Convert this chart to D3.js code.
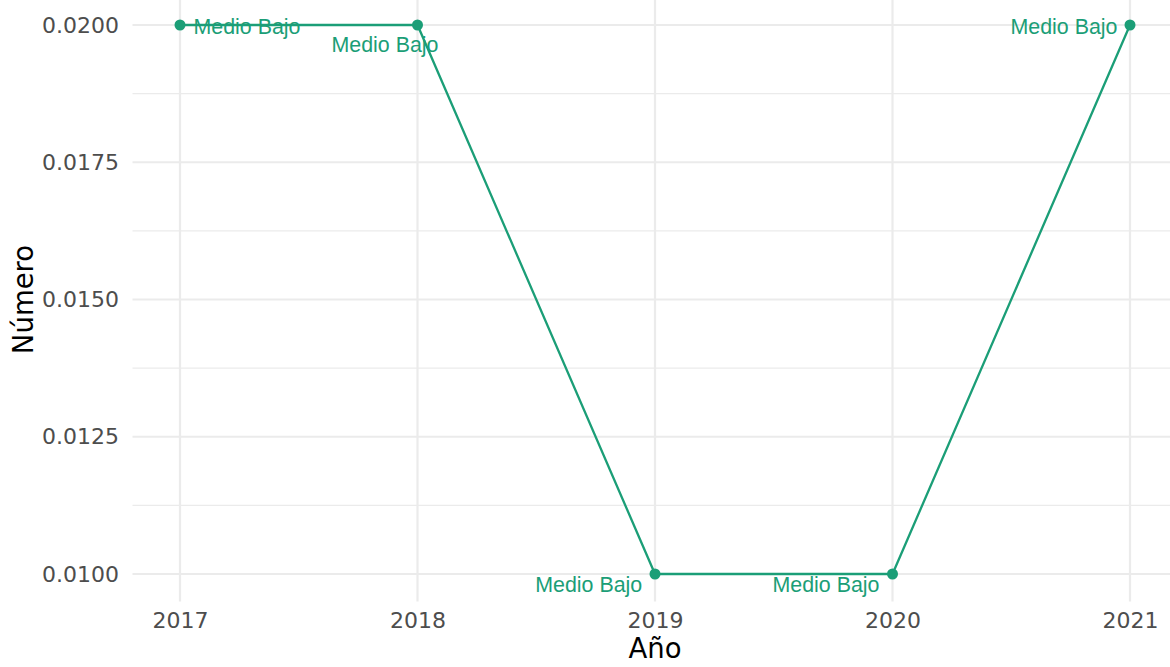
<!DOCTYPE html>
<html>
<head>
<meta charset="utf-8">
<script src="https://cdn.jsdelivr.net/npm/d3@7"></script>
<style>
  html, body { margin: 0; padding: 0; background: #ffffff; }
  svg { display: block; }
</style>
</head>
<body>
<svg id="chart" width="1170" height="667"></svg>
<script>
// ---- data ----
const years = [2017, 2018, 2019, 2020, 2021];
const values = [0.02, 0.02, 0.01, 0.01, 0.02];
const labels = ["Medio Bajo", "Medio Bajo", "Medio Bajo", "Medio Bajo", "Medio Bajo"];
const yTicks = [0.01, 0.0125, 0.015, 0.0175, 0.02];
const yMinor = [0.01125, 0.01375, 0.01625, 0.01875];
const xTitle = "Año";
const yTitle = "Número";

// ---- layout (label offsets, in px, relative to each point) ----
const labelOffsets = [
  { dx: 67, dy: 8.5 },
  { dx: -32.5, dy: 26.5 },
  { dx: -66.3, dy: 18 },
  { dx: -66.5, dy: 18 },
  { dx: -66, dy: 8.5 }
];

const color = "#1b9e77";
const svg = d3.select("#chart");

const x = d3.scaleLinear().domain([2017, 2021]).range([180, 1130]);
const y = d3.scaleLinear().domain([0.01, 0.02]).range([574, 25]);

// panel extents (5% expansion like ggplot)
const xPad = 0.05 * (2021 - 2017);
const yPad = 0.05 * (0.02 - 0.01);
const px0 = x(2017 - xPad), px1 = x(2021 + xPad);
const py0 = y(0.01 - yPad), py1 = y(0.02 + yPad);

// gridlines
const grid = svg.append("g");
grid.selectAll("line.minor").data(yMinor).enter().append("line")
  .attr("x1", px0).attr("x2", px1)
  .attr("y1", d => y(d)).attr("y2", d => y(d))
  .attr("stroke", "#ebebeb").attr("stroke-width", 1.1);
grid.selectAll("line.majory").data(yTicks).enter().append("line")
  .attr("x1", px0).attr("x2", px1)
  .attr("y1", d => y(d)).attr("y2", d => y(d))
  .attr("stroke", "#ebebeb").attr("stroke-width", 2.2);
grid.selectAll("line.majorx").data(years).enter().append("line")
  .attr("x1", d => x(d)).attr("x2", d => x(d))
  .attr("y1", py0).attr("y2", py1)
  .attr("stroke", "#ebebeb").attr("stroke-width", 2.2);

// axes
const xAxis = svg.append("g")
  .attr("transform", `translate(0,${py0})`)
  .call(d3.axisBottom(x).tickValues(years).tickFormat(d3.format("d")).tickSize(0).tickPadding(11));
const yAxis = svg.append("g")
  .attr("transform", `translate(${px0},0)`)
  .call(d3.axisLeft(y).tickValues(yTicks).tickFormat(d3.format(".4f")).tickSize(0).tickPadding(13.5));
[xAxis, yAxis].forEach(g => {
  g.select(".domain").remove();
  g.selectAll("text")
    .attr("fill", "#4d4d4d")
    .style("font-family", "'DejaVu Sans', sans-serif")
    .style("font-size", "22px");
});

// axis titles
svg.append("text")
  .attr("x", (px0 + px1) / 2).attr("y", 658)
  .attr("text-anchor", "middle")
  .style("font-family", "'DejaVu Sans', sans-serif")
  .style("font-size", "27.5px")
  .attr("fill", "#000")
  .text(xTitle);
svg.append("text")
  .attr("transform", `translate(33,${(py0 + py1) / 2}) rotate(-90)`)
  .attr("text-anchor", "middle")
  .style("font-family", "'DejaVu Sans', sans-serif")
  .style("font-size", "27.5px")
  .attr("fill", "#000")
  .text(yTitle);

// line + points
const data = years.map((yr, i) => ({ year: yr, value: values[i], label: labels[i], off: labelOffsets[i] }));
const line = d3.line().x(d => x(d.year)).y(d => y(d.value));
svg.append("path").datum(data)
  .attr("d", line)
  .attr("fill", "none")
  .attr("stroke", color)
  .attr("stroke-width", 2.3);
svg.selectAll("circle.pt").data(data).enter().append("circle")
  .attr("cx", d => x(d.year)).attr("cy", d => y(d.value))
  .attr("r", 5.5).attr("fill", color);

// labels
svg.selectAll("text.lbl").data(data).enter().append("text")
  .attr("x", d => x(d.year) + d.off.dx)
  .attr("y", d => y(d.value) + d.off.dy)
  .attr("text-anchor", "middle")
  .style("font-family", "'Liberation Sans', Arial, sans-serif")
  .style("font-size", "21.4px")
  .attr("fill", color)
  .text(d => d.label);
</script>
</body>
</html>
